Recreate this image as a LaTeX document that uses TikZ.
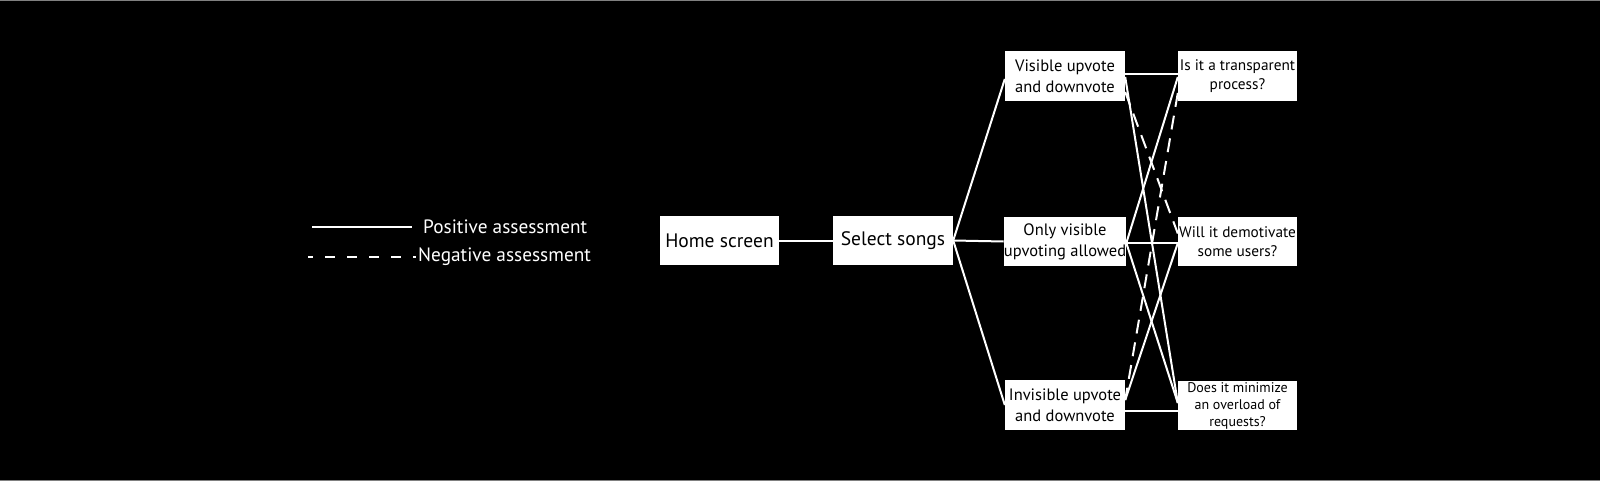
\documentclass[tikz,border=0pt]{standalone}
\usepackage{fontspec}
\setmainfont{PT Sans}
\usetikzlibrary{calc}
\tikzset{
  box/.style={fill=white, draw=none, text=black, align=center, inner sep=0pt,
    font=\fontsize{16.5}{21}\selectfont},
  bigbox/.style={box, font=\fontsize{19.5}{23}\selectfont},
  smallbox/.style={box, font=\fontsize{15.3}{19}\selectfont},
  conn/.style={draw=white, line width=2pt},
  negconn/.style={conn, dash pattern=on 14pt off 9pt},
  legendtext/.style={text=white, anchor=west, inner sep=0pt, font=\fontsize{19.3}{23}\selectfont},
}
\begin{document}
\begin{tikzpicture}[x=1pt,y=-1pt]
\fill[black] (0,0) rectangle (1600,481);
\useasboundingbox (0,0) rectangle (1600,481);
\draw[gray, line width=1pt] (0,0.5) -- (1600,0.5);
\draw[gray, line width=1pt] (0,480.5) -- (1600,480.5);

% legend
\coordinate (pa) at (312,227);
\coordinate (pb) at (412,227);
\node[legendtext] (postext) at (423,227) {Positive assessment};
\draw[conn] (pa) -- (pb);
\coordinate (na) at (308,257);
\coordinate (nb) at (416,257);
\node[legendtext] (negtext) at (418,257) {Negative assessment};
\draw[white, line width=2pt, dash pattern=on 10pt off 12pt, dash phase=5pt] (na) -- (nb);

% boxes
\node[bigbox, minimum width=119pt, minimum height=49pt] (home) at (719.5,240.5) {Home screen};
\node[bigbox, minimum width=120pt, minimum height=49pt] (sel) at (893,240.5) {Select songs};
\node[box, minimum width=120pt, minimum height=50pt] (vis) at (1065,76) {Visible upvote\\and downvote};
\node[box, minimum width=120pt, minimum height=49pt] (only) at (1065,241.5) {Only visible\\upvoting allowed};
\node[box, minimum width=120pt, minimum height=50pt] (invis) at (1065,405) {Invisible upvote\\and downvote};
\node[smallbox, minimum width=119pt, minimum height=50pt] (trans) at (1237.5,76) {Is it a transparent\\process?};
\node[smallbox, minimum width=119pt, minimum height=49pt] (demot) at (1237.5,241.5) {Will it demotivate\\some users?};
\node[smallbox, minimum width=119pt, minimum height=49pt, font=\fontsize{14}{17}\selectfont] (minim) at (1237.5,405.5) {Does it minimize\\an overload of\\requests?};

% connectors
\draw[conn] (home.east) -- (sel.west);
\draw[conn] (sel.east) -- ([yshift=-3pt]vis.west);
\draw[conn] (sel.east) -- (only.west);
\draw[conn] (sel.east) -- (invis.west);

\draw[conn] ([yshift=2pt]vis.east) -- ([yshift=2pt]trans.west);
\draw[conn] ([yshift=-1pt]vis.east) -- ([yshift=2.5pt]minim.west);
\draw[negconn] ([yshift=-16pt]vis.east) -- ([yshift=8pt]demot.west);
\draw[conn] ([yshift=-1pt]trans.west) -- ([yshift=-1.5pt]only.east);
\draw[negconn] ([yshift=-17pt]trans.west) -- ([yshift=5pt]invis.east);
\draw[conn] ([yshift=-1.5pt]only.east) -- ([yshift=-1.5pt]demot.west);
\draw[conn] ([yshift=-1.5pt]only.east) -- ([yshift=2.5pt]minim.west);
\draw[conn] ([yshift=-1.5pt]demot.west) -- ([yshift=5pt]invis.east);
\draw[conn] ([yshift=-6pt]invis.east) -- ([yshift=-5.5pt]minim.west);
\end{tikzpicture}
\end{document}
